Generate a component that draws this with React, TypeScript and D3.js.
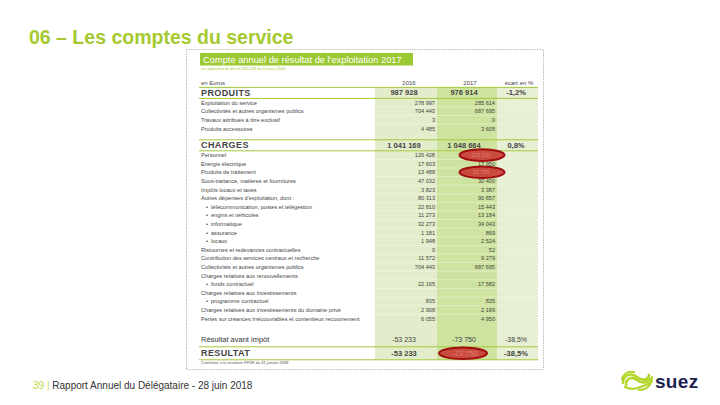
import React from "react";
import * as d3 from "d3";

const labels = [
  "PRODUITS",
  "Exploitation du service",
  "Collectivités et autres organismes publics",
  "Travaux attribués à titre exclusif",
  "Produits accessoires",
  "",
  "CHARGES",
  "Personnel",
  "Energie électrique",
  "Produits de traitement",
  "Sous-traitance, matières et fournitures",
  "Impôts locaux et taxes",
  "Autres dépenses d'exploitation, dont :",
  "télécommunication, postes et télégestion",
  "engins et véhicules",
  "informatique",
  "assurance",
  "locaux",
  "Ristournes et redevances contractuelles",
  "Contribution des services centraux et recherche",
  "Collectivités et autres organismes publics",
  "Charges relatives aux renouvellements",
  "fonds contractuel",
  "Charges relatives aux investissements",
  "programme contractuel",
  "Charges relatives aux investissements du domaine privé",
  "Pertes sur créances irrécouvrables et contentieux recouvrement",
  "",
  "Résultat avant impôt",
  "RESULTAT",
];
const kinds = [
  "section", "item", "item", "item", "item", "gap",
  "section", "item", "item", "item", "item", "item", "item",
  "sub", "sub", "sub", "sub", "sub",
  "item", "item", "item", "item", "sub", "item", "sub", "item", "item", "gap2",
  "pre", "total",
];
const values2016 = [
  "987 928", "278 997", "704 443", "3", "4 485", "",
  "1 041 169", "126 428", "17 603", "13 488", "47 032", "3 823", "80 313",
  "22 810", "11 273", "32 273", "1 181", "1 948",
  "0", "11 572", "704 443", "", "22 165", "", "835", "2 908", "6 055", "",
  "-53 233", "-53 233",
];
const values2017 = [
  "976 914", "285 614", "687 695", "0", "3 605", "",
  "1 048 664", "115 501", "17 950", "22 755", "30 400", "3 387", "90 857",
  "15 443", "13 184", "34 043", "869", "2 524",
  "52", "9 279", "687 695", "", "17 582", "", "835", "2 169", "4 950", "",
  "-73 750", "-73 750",
];
const ecarts = [
  "-1,2%", "", "", "", "", "",
  "0,8%", "", "", "", "", "", "",
  "", "", "", "", "",
  "", "", "", "", "", "", "", "", "", "",
  "-38,5%", "-38,5%",
];
const highlighted = ["Personnel", "Produits de traitement", "RESULTAT"];
const columnNames = ["2016", "2017", "écart en %"];

const GREEN = "#a3c93a";
const W = 720;
const H = 405;

const heightOf: Record<string, number> = {
  section: 11, item: 8.6, sub: 8.6, gap: 7, gap2: 9, pre: 15, total: 13,
};

export default function App() {
  const rowsTop: number[] = [];
  let acc = 87.4;
  kinds.forEach((k) => {
    rowsTop.push(acc);
    acc += heightOf[k];
  });
  const tableTop = 87.4;
  const tableBottom = acc;

  const colLeft = d3.scaleOrdinal<string, number>().domain(columnNames).range([375, 437, 497]);
  const colRight = d3.scaleOrdinal<string, number>().domain(columnNames).range([437, 497, 538]);
  const colFill = d3.scaleOrdinal<string, string>().domain(columnNames).range(["#e3edcb", "#cfe3a0", "#e7efd4"]);
  const colMid = d3.scaleOrdinal<string, number>().domain(columnNames).range([404, 464, 516]);

  const font = "'Liberation Sans', Arial, sans-serif";
  const txt = "#444";

  const rowLinesGreen = [tableTop];
  kinds.forEach((k, i) => {
    if (k === "section") { rowLinesGreen.push(rowsTop[i] + heightOf[k]); if (i > 0) rowLinesGreen.push(rowsTop[i]); }
    if (k === "total") { rowLinesGreen.push(rowsTop[i]); rowLinesGreen.push(rowsTop[i] + heightOf[k]); }
  });

  return (
    <svg width={W} height={H} style={{ position: "absolute", left: 0, top: 0, background: "#fff" }} fontFamily={font}>
      <rect x={0} y={0} width={W} height={H} fill="#fff" />
      <text x={29} y={44} fontSize={19.5} fontWeight="bold" fill="#a5c92e">06 – Les comptes du service</text>

      <rect x={186.5} y={49.5} width={357} height={320} fill="#fff" stroke="#9a9a9a" strokeWidth={0.8} strokeDasharray="1.2,1.2" />

      <rect x={200} y={53} width={213} height={12.5} fill="#9cc832" />
      <text x={203} y={62.8} fontSize={9.3} fill="#fff">Compte annuel de résultat de l'exploitation   2017</text>
      <text x={201} y={70} fontSize={3.6} fill="#9cc832">(en application du décret 2005-236 du 14 mars 2005)</text>

      <text x={201} y={85} fontSize={6} fill={txt}>en Euros</text>
      {columnNames.map((c, i) => (
        <text key={c} x={i === 2 ? 519 : (colLeft(c) + colRight(c)) / 2 + 3} y={85} fontSize={6} fill={txt} textAnchor="middle">{c}</text>
      ))}

      {columnNames.map((c) => (
        <rect key={c} x={colLeft(c)} y={tableTop} width={colRight(c) - colLeft(c)} height={tableBottom - tableTop} fill={colFill(c)} />
      ))}

      {kinds.map((k, i) =>
        i > 0 && (k === "item" || k === "sub") ? (
          <line key={"s" + i} x1={375} x2={538} y1={rowsTop[i]} y2={rowsTop[i]} stroke="#ffffff" strokeWidth={0.5} opacity={0.7} />
        ) : null
      )}

      {rowLinesGreen.map((y, i) => (
        <line key={"g" + i} x1={199} x2={538} y1={y} y2={y} stroke={GREEN} strokeWidth={1} />
      ))}

      {labels.map((lab, i) => {
        const k = kinds[i];
        if (k === "gap" || k === "gap2") return null;
        const cy = rowsTop[i] + heightOf[k] / 2;
        const big = k === "section" || k === "total";
        const fs = big ? 9 : k === "pre" ? 7.5 : 5.6;
        const lx = k === "sub" ? 211 : 201;
        const centered = big || k === "pre";
        const hl = highlighted.includes(lab);
        return (
          <g key={"r" + i}>
            {k === "sub" && <text x={206} y={cy} fontSize={5.6} fill={txt} dominantBaseline="central">•</text>}
            <text x={lx} y={cy} fontSize={fs} fontWeight={big ? "bold" : "normal"} fill={k === "pre" ? "#333" : txt} dominantBaseline="central" letterSpacing={big ? 0.4 : 0}>{lab}</text>
            {[values2016[i], values2017[i], ecarts[i]].map((v, j) =>
              v && !(hl && j === 1) ? (
                <text
                  key={j}
                  x={centered ? colMid(columnNames[j]) : colRight(columnNames[j]) - 2}
                  y={cy}
                  fontSize={big ? 7.5 : k === "pre" ? 7 : 5.6}
                  fontWeight={big ? "bold" : "normal"}
                  fill={txt}
                  textAnchor={centered ? "middle" : "end"}
                  dominantBaseline="central"
                >
                  {v}
                </text>
              ) : null
            )}
          </g>
        );
      })}

      {labels.map((lab, i) => {
        if (!highlighted.includes(lab)) return null;
        const k = kinds[i];
        const cy = rowsTop[i] + heightOf[k] / 2;
        const cx = k === "total" ? 463 : 482;
        const rx = k === "total" ? 24 : 22.5;
        return (
          <g key={"e" + i}>
            <ellipse cx={cx} cy={cy} rx={rx} ry={5.8} fill="#c8302c" fillOpacity={0.85} stroke="#a00e10" strokeWidth={2} />
            <text x={k === "total" ? 465 : 481} y={cy} fontSize={k === "total" ? 7.5 : 5.6} fill="#e07a70" textAnchor="middle" dominantBaseline="central">{values2017[i]}</text>
          </g>
        );
      })}

      <text x={201} y={363.5} fontSize={4} fontStyle="italic" fill="#555">Conforme à la circulaire FP2E du 31 janvier 2006</text>

      <text x={33} y={388.5} fontSize={10} fill="#333">
        <tspan fill="#c3d64a">39 | </tspan>Rapport Annuel du Délégataire - 28 juin 2018
      </text>

      <g transform="translate(637,381)" fill="none" stroke="#b3d62a" strokeLinecap="round">
        <path d="M -14 2 C -14 -6, -6 -9, 0 -4 C 6 1, 12 -2, 12 -6" strokeWidth={2.6} />
        <path d="M -11 4 C -11 -3, -5 -5, 0 -1 C 5 3, 10 2, 13 -2" strokeWidth={2.6} />
        <path d="M -12 6 C -6 9, 0 8, 6 5 C 10 3, 14 2, 15 0" strokeWidth={2.2} />
        <path d="M -15 -2 C -13 -8, -8 -10, -3 -9" strokeWidth={2.2} />
        <path d="M 2 9 C 8 9, 14 6, 15 -4" strokeWidth={2.2} />
      </g>
      <text x={655} y={388} fontSize={19} fontWeight="bold" fill="#1c1f4f" letterSpacing={0.3}>suez</text>
    </svg>
  );
}
